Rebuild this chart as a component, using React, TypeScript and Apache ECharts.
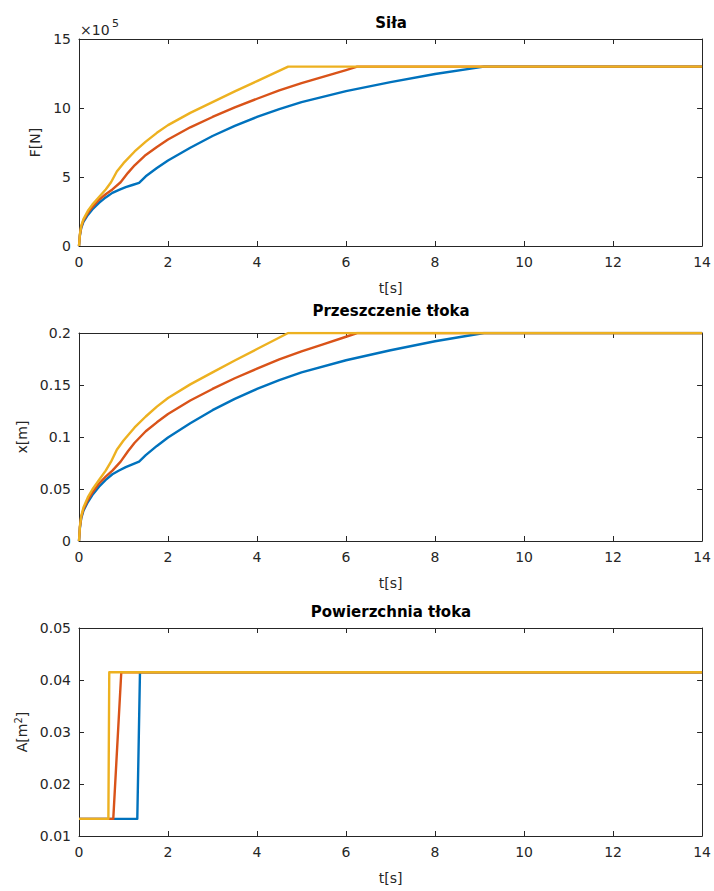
import React, { useEffect, useRef } from "react";
import * as echarts from "echarts";

// ---- data (time in s) ----
const tBlue = [0, 0.02, 0.05, 0.1, 0.2, 0.3, 0.45, 0.6, 0.75, 0.9, 1.05, 1.2, 1.35, 1.5, 1.75, 2, 2.5, 3, 3.5, 4, 4.5, 5, 6, 7, 8, 9.1, 14];
const tRed = [0, 0.02, 0.05, 0.1, 0.2, 0.3, 0.45, 0.6, 0.75, 0.935, 1.1, 1.25, 1.5, 1.75, 2, 2.5, 3, 3.5, 4, 4.5, 5, 5.5, 6, 6.25, 14];
const tYellow = [0, 0.02, 0.05, 0.1, 0.2, 0.3, 0.45, 0.6, 0.72, 0.85, 1, 1.25, 1.5, 1.75, 2, 2.5, 3, 3.5, 4, 4.35, 4.7, 14];

// Force in units of 1e5 N
const forceBlue = [0, 0.75, 1.3, 1.75, 2.25, 2.65, 3.13, 3.52, 3.85, 4.07, 4.26, 4.42, 4.58, 5.05, 5.65, 6.2, 7.12, 7.97, 8.7, 9.35, 9.92, 10.43, 11.22, 11.87, 12.46, 13.0, 13.0];
const forceRed = [0, 0.8, 1.38, 1.85, 2.4, 2.82, 3.35, 3.75, 4.1, 4.62, 5.3, 5.85, 6.6, 7.18, 7.72, 8.6, 9.35, 10.05, 10.67, 11.28, 11.8, 12.28, 12.75, 13.0, 13.0];
const forceYellow = [0, 0.85, 1.45, 1.95, 2.55, 3.0, 3.55, 4.1, 4.62, 5.4, 6.0, 6.85, 7.56, 8.2, 8.76, 9.65, 10.43, 11.2, 11.95, 12.47, 13.0, 13.0];

// Piston displacement [m]
const dispBlue = [0, 0.0125, 0.0217, 0.0292, 0.0375, 0.0442, 0.0522, 0.0587, 0.0642, 0.0678, 0.071, 0.0737, 0.0763, 0.0825, 0.0914, 0.0995, 0.1132, 0.1258, 0.1366, 0.1462, 0.1546, 0.1621, 0.1738, 0.1834, 0.1921, 0.2, 0.2];
const dispRed = [0, 0.0132, 0.0228, 0.0305, 0.0396, 0.0465, 0.0553, 0.0619, 0.0677, 0.0763, 0.0863, 0.0945, 0.1055, 0.1141, 0.1221, 0.1351, 0.1462, 0.1565, 0.1657, 0.1747, 0.1824, 0.1894, 0.1964, 0.2, 0.2];
const dispYellow = [0, 0.014, 0.0239, 0.0322, 0.0421, 0.0495, 0.0586, 0.0677, 0.0763, 0.0878, 0.0967, 0.1092, 0.1197, 0.1292, 0.1375, 0.1506, 0.1621, 0.1735, 0.1846, 0.1923, 0.2, 0.2];

// Piston area [m^2]
const tAreaBlue = [0, 1.31, 1.37, 14];
const tAreaRed = [0, 0.77, 0.95, 14];
const tAreaYellow = [0, 0.66, 0.68, 14];
const areaBlue = [0.0133, 0.0133, 0.0415, 0.0415];
const areaRed = [0.0133, 0.0133, 0.0415, 0.0415];
const areaYellow = [0.0133, 0.0133, 0.0415, 0.0415];

const panelTitles = ["Siła", "Przeszczenie tłoka", "Powierzchnia tłoka"];
const yNames = ["F[N]", "x[m]", "A[m{sup|2}]"];
const xName = "t[s]";
const yRanges = [
  { min: 0, max: 15, interval: 5 },
  { min: 0, max: 0.2, interval: 0.05 },
  { min: 0.01, max: 0.05, interval: 0.01 },
];

const FONT = "DejaVu Sans, Liberation Sans, Arial, sans-serif";
const INK = "#262626";
const COLORS = ["#0072BD", "#D95319", "#EDB120"];

const grids = [
  { left: 79, top: 39, width: 624, height: 207 },
  { left: 79, top: 333, width: 624, height: 208 },
  { left: 79, top: 628, width: 624, height: 208 },
];
const yNameGaps = [33, 48, 47];

function pairs(t: number[], v: number[]) {
  return t.map((x, i) => [x, v[i]]);
}

export default function App() {
  const ref = useRef<HTMLDivElement>(null);
  useEffect(() => {
    if (!ref.current) return;
    const chart = echarts.init(ref.current, undefined, { renderer: "svg" });
    const xAxes: any[] = [];
    const yAxes: any[] = [];
    grids.forEach((_, g) => {
      const lineStyle = { color: INK, width: 1 };
      xAxes.push({
        type: "value", gridIndex: g, position: "bottom", min: 0, max: 14, interval: 2,
        axisLine: { show: true, onZero: false, lineStyle },
        axisTick: { show: true, inside: true, length: 5, lineStyle },
        axisLabel: { color: INK, fontSize: 14, fontFamily: FONT, margin: 9 },
        splitLine: { show: false },
        name: xName, nameLocation: "middle", nameGap: 35,
        nameTextStyle: { color: INK, fontSize: 14, fontFamily: FONT },
      });
      xAxes.push({
        type: "value", gridIndex: g, position: "top", min: 0, max: 14, interval: 2,
        axisLine: { show: true, onZero: false, lineStyle },
        axisTick: { show: true, inside: true, length: 5, lineStyle },
        axisLabel: { show: false },
        splitLine: { show: false },
      });
      const r = yRanges[g];
      yAxes.push({
        type: "value", gridIndex: g, position: "left", ...r,
        axisLine: { show: true, onZero: false, lineStyle },
        axisTick: { show: true, inside: true, length: 5, lineStyle },
        axisLabel: { color: INK, fontSize: 14, fontFamily: FONT, margin: 8 },
        splitLine: { show: false },
        name: yNames[g], nameLocation: "middle", nameGap: yNameGaps[g],
        nameTextStyle: {
          color: INK, fontSize: 14, fontFamily: FONT,
          rich: { sup: { fontSize: 10, fontFamily: FONT, color: INK, verticalAlign: "top", padding: [0, 0, 6, 0] } },
        },
      });
      yAxes.push({
        type: "value", gridIndex: g, position: "right", ...r,
        axisLine: { show: true, onZero: false, lineStyle },
        axisTick: { show: true, inside: true, length: 5, lineStyle },
        axisLabel: { show: false },
        splitLine: { show: false },
      });
    });

    const panelData = [
      [pairs(tBlue, forceBlue), pairs(tRed, forceRed), pairs(tYellow, forceYellow)],
      [pairs(tBlue, dispBlue), pairs(tRed, dispRed), pairs(tYellow, dispYellow)],
      [pairs(tAreaBlue, areaBlue), pairs(tAreaRed, areaRed), pairs(tAreaYellow, areaYellow)],
    ];
    const series: any[] = [];
    panelData.forEach((sets, g) => {
      sets.forEach((d, k) => {
        series.push({
          type: "line", xAxisIndex: g * 2, yAxisIndex: g * 2, data: d,
          showSymbol: false, symbol: "none", clip: true,
          lineStyle: { color: COLORS[k], width: 2.4, join: "round" },
          itemStyle: { color: COLORS[k] },
        });
      });
    });

    const titleY = [23, 311, 612];
    const graphic: any[] = panelTitles.map((t, g) => ({
      type: "text",
      x: grids[g].left + grids[g].width / 2, y: titleY[g],
      style: { text: t, fill: "#000", font: `bold 15px ${FONT}`, align: "center", verticalAlign: "middle" },
    }));
    graphic.push({
      type: "text", x: 80, y: 30,
      style: { text: "×10", fill: INK, font: `14px ${FONT}`, align: "left", verticalAlign: "middle" },
    });
    graphic.push({
      type: "text", x: 112, y: 23,
      style: { text: "5", fill: INK, font: `11px ${FONT}`, align: "left", verticalAlign: "middle" },
    });

    chart.setOption({
      animation: false,
      backgroundColor: "#fff",
      grid: grids,
      xAxis: xAxes,
      yAxis: yAxes,
      series,
      graphic,
    });
    return () => chart.dispose();
  }, []);
  return <div ref={ref} style={{ position: "absolute", left: 0, top: 0, width: 714, height: 891 }} />;
}
